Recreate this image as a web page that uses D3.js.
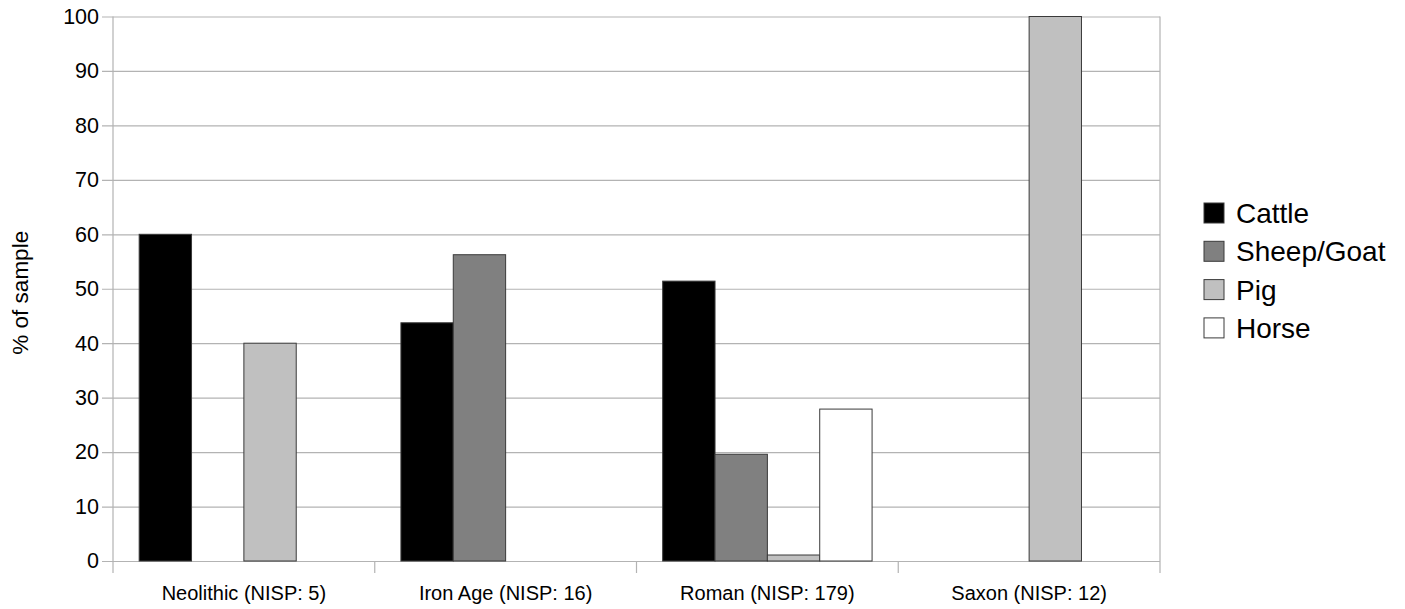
<!DOCTYPE html>
<html>
<head>
<meta charset="utf-8">
<script src="https://cdn.jsdelivr.net/npm/d3@7/dist/d3.min.js"></script>
<style>
  html, body { margin: 0; padding: 0; background: #fff; }
  svg { display: block; font-family: "Liberation Sans", Arial, sans-serif; }
</style>
</head>
<body>
<svg id="chart" width="1405" height="609"></svg>
<script>
// Periods (with sample sizes) and the species groups plotted for each
const categories = ["Neolithic (NISP: 5)", "Iron Age (NISP: 16)", "Roman (NISP: 179)", "Saxon (NISP: 12)"];
const seriesNames = ["Cattle", "Sheep/Goat", "Pig", "Horse"];

// Percentage of sample per species, one value per period
const cattle    = [60, 43.75, 51.4, 0];
const sheepGoat = [0, 56.25, 19.6, 0];
const pig       = [40, 0, 1.1, 100];
const horse     = [0, 0, 27.9, 0];

const yTicks = [0, 10, 20, 30, 40, 50, 60, 70, 80, 90, 100];
const yTitle = "% of sample";

const seriesValues = [cattle, sheepGoat, pig, horse];
const fills = ["#000000", "#808080", "#c0c0c0", "#ffffff"];

const svg = d3.select("#chart");
const plot = { left: 113, right: 1160, top: 16.5, bottom: 561 };

const x = d3.scaleBand().domain(categories).range([plot.left, plot.right]).padding(0);
const xs = d3.scaleBand().domain(seriesNames).range([0, x.bandwidth()])
  .paddingInner(0).paddingOuter(0.5);
const y = d3.scaleLinear().domain([0, 100]).range([plot.bottom, plot.top]);

const gridColor = "#b3b3b3";

// Horizontal gridlines with left tick marks
const yAxis = d3.axisLeft(y).tickValues(yTicks).tickSize(-(plot.right - plot.left)).tickSizeOuter(0).tickPadding(14);
const gy = svg.append("g").attr("transform", `translate(${plot.left},0)`).call(yAxis);
gy.select(".domain").remove();
gy.selectAll(".tick line").attr("stroke", gridColor).attr("x1", -11).attr("stroke-width", 1.2);
gy.selectAll(".tick text").attr("font-size", 21.5).attr("fill", "#000")
  .attr("font-family", "Liberation Sans, Arial, sans-serif");

// Left and right frame lines
[plot.left, plot.right].forEach(px => {
  svg.append("line").attr("x1", px).attr("x2", px)
    .attr("y1", plot.top).attr("y2", plot.bottom + 12)
    .attr("stroke", gridColor).attr("stroke-width", 1.2);
});

// Category divider ticks below the baseline
const boundaries = categories.slice(1).map(c => x(c));
svg.append("g").selectAll("line").data(boundaries).join("line")
  .attr("x1", d => d).attr("x2", d => d)
  .attr("y1", plot.bottom).attr("y2", plot.bottom + 12)
  .attr("stroke", gridColor).attr("stroke-width", 1.2);

// Bars
const rows = [];
categories.forEach((c, i) => {
  seriesNames.forEach((s, j) => {
    const v = seriesValues[j][i];
    if (v > 0) rows.push({ c, s, v, j });
  });
});
svg.append("g").selectAll("rect").data(rows).join("rect")
  .attr("x", d => x(d.c) + xs(d.s))
  .attr("y", d => y(d.v))
  .attr("width", xs.bandwidth())
  .attr("height", d => y(0) - y(d.v))
  .attr("fill", d => fills[d.j])
  .attr("stroke", "#3a3a3a")
  .attr("stroke-width", 1);

// Category labels
svg.append("g").selectAll("text").data(categories).join("text")
  .attr("x", d => x(d) + x.bandwidth() / 2)
  .attr("y", 600)
  .attr("text-anchor", "middle")
  .attr("font-size", 20)
  .attr("fill", "#000")
  .text(d => d);

// Y axis title
svg.append("text")
  .attr("transform", `translate(28,${(plot.top + plot.bottom) / 2 + 4}) rotate(-90)`)
  .attr("text-anchor", "middle")
  .attr("font-size", 22.5)
  .attr("fill", "#000")
  .text(yTitle);

// Legend
const legend = svg.append("g").attr("transform", "translate(1204,203)");
const li = legend.selectAll("g").data(seriesNames).join("g")
  .attr("transform", (d, i) => `translate(0,${i * 38.3})`);
li.append("rect").attr("width", 20).attr("height", 20)
  .attr("fill", (d, i) => fills[i]).attr("stroke", "#3a3a3a").attr("stroke-width", 1);
li.append("text").attr("x", 32).attr("y", 20)
  .attr("font-size", 28).attr("fill", "#000").text(d => d);
</script>
</body>
</html>
